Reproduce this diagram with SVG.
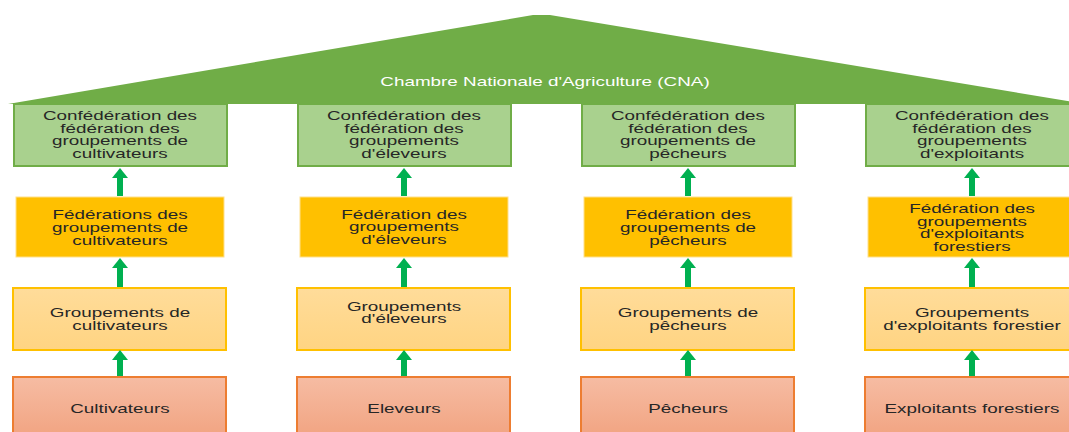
<svg xmlns="http://www.w3.org/2000/svg" width="1069" height="432" viewBox="0 0 1069 432">
<defs>
<style>
.t{font-family:"Liberation Sans",Arial,sans-serif;font-size:13px;fill:#262626;text-anchor:middle}
.title{font-family:"Liberation Sans",Arial,sans-serif;font-size:13px;fill:#ffffff;text-anchor:middle}
.r1{fill:#a9d18e;stroke:#70ad47;stroke-width:2}
.r2{fill:#ffc000;stroke:#ffe08a;stroke-width:1}
.r3{fill:url(#g3);stroke:#ffc000;stroke-width:2}
.r4{fill:url(#g4);stroke:#ed7d31;stroke-width:2}
.arr{stroke:#00b050;stroke-width:6;fill:none;marker-end:url(#ah)}
</style>
<linearGradient id="g3" x1="0" y1="0" x2="0" y2="1"><stop offset="0" stop-color="#ffdc9a"/><stop offset="1" stop-color="#ffd482"/></linearGradient>
<linearGradient id="g4" x1="0" y1="0" x2="0" y2="1"><stop offset="0" stop-color="#f6bca3"/><stop offset="1" stop-color="#f1a27f"/></linearGradient>
<marker id="ah" markerUnits="userSpaceOnUse" markerWidth="10" markerHeight="16" viewBox="0 0 10 16" refX="0" refY="8" orient="auto"><path d="M0,0 L10,8 L0,16 Z" fill="#00b050"/></marker>
</defs>
<rect width="1069" height="432" fill="#ffffff"/>

<g id="cna">
<polygon points="8,104 533,15 550,15 1085,104" fill="#70ad47"/>
<text class="title" transform="translate(545 0) scale(1.45 1)"><tspan x="0" y="86.5">Chambre Nationale d'Agriculture (CNA)</tspan></text>
</g>

<g id="conf-cultivateurs">
<rect class="r1" x="14" y="104" width="213" height="62"/>
<text class="t" transform="translate(120 0) scale(1.45 1)"><tspan x="0" y="120.5">Confédération des</tspan><tspan x="0" y="133">fédération des</tspan><tspan x="0" y="145.5">groupements de</tspan><tspan x="0" y="158">cultivateurs</tspan></text>
</g>
<g id="conf-eleveurs">
<rect class="r1" x="298" y="104" width="213" height="62"/>
<text class="t" transform="translate(404 0) scale(1.45 1)"><tspan x="0" y="120.5">Confédération des</tspan><tspan x="0" y="133">fédération des</tspan><tspan x="0" y="145.5">groupements</tspan><tspan x="0" y="158">d'éleveurs</tspan></text>
</g>
<g id="conf-pecheurs">
<rect class="r1" x="582" y="104" width="213" height="62"/>
<text class="t" transform="translate(688 0) scale(1.45 1)"><tspan x="0" y="120.5">Confédération des</tspan><tspan x="0" y="133">fédération des</tspan><tspan x="0" y="145.5">groupements de</tspan><tspan x="0" y="158">pêcheurs</tspan></text>
</g>
<g id="conf-exploitants">
<rect class="r1" x="866" y="104" width="213" height="62"/>
<text class="t" transform="translate(972 0) scale(1.45 1)"><tspan x="0" y="120.5">Confédération des</tspan><tspan x="0" y="133">fédération des</tspan><tspan x="0" y="145.5">groupements</tspan><tspan x="0" y="158">d'exploitants</tspan></text>
</g>

<g id="fed-cultivateurs">
<rect class="r2" x="16" y="197" width="208" height="60"/>
<text class="t" transform="translate(120 0) scale(1.45 1)"><tspan x="0" y="219.5">Fédérations des</tspan><tspan x="0" y="232.5">groupements de</tspan><tspan x="0" y="245.5">cultivateurs</tspan></text>
</g>
<g id="fed-eleveurs">
<rect class="r2" x="300" y="197" width="208" height="60"/>
<text class="t" transform="translate(404 0) scale(1.45 1)"><tspan x="0" y="219">Fédération des</tspan><tspan x="0" y="231.5">groupements</tspan><tspan x="0" y="244">d'éleveurs</tspan></text>
</g>
<g id="fed-pecheurs">
<rect class="r2" x="584" y="197" width="208" height="60"/>
<text class="t" transform="translate(688 0) scale(1.45 1)"><tspan x="0" y="219.5">Fédération des</tspan><tspan x="0" y="232.5">groupements de</tspan><tspan x="0" y="245.5">pêcheurs</tspan></text>
</g>
<g id="fed-exploitants">
<rect class="r2" x="868" y="197" width="208" height="60"/>
<text class="t" transform="translate(972 0) scale(1.45 1)"><tspan x="0" y="213.5">Fédération des</tspan><tspan x="0" y="226">groupements</tspan><tspan x="0" y="238.5">d'exploitants</tspan><tspan x="0" y="251.5">forestiers</tspan></text>
</g>

<g id="grp-cultivateurs">
<rect class="r3" x="13" y="288" width="213" height="62"/>
<text class="t" transform="translate(120 0) scale(1.45 1)"><tspan x="0" y="317.5">Groupements de</tspan><tspan x="0" y="330.5">cultivateurs</tspan></text>
</g>
<g id="grp-eleveurs">
<rect class="r3" x="297" y="288" width="213" height="62"/>
<text class="t" transform="translate(404 0) scale(1.45 1)"><tspan x="0" y="311">Groupements</tspan><tspan x="0" y="323.5">d'éleveurs</tspan></text>
</g>
<g id="grp-pecheurs">
<rect class="r3" x="581" y="288" width="213" height="62"/>
<text class="t" transform="translate(688 0) scale(1.45 1)"><tspan x="0" y="317.5">Groupements de</tspan><tspan x="0" y="330.5">pêcheurs</tspan></text>
</g>
<g id="grp-exploitants">
<rect class="r3" x="865" y="288" width="213" height="62"/>
<text class="t" transform="translate(972 0) scale(1.45 1)"><tspan x="0" y="317.5">Groupements</tspan><tspan x="0" y="330.5">d'exploitants forestier</tspan></text>
</g>

<g id="cultivateurs">
<rect class="r4" x="13" y="377" width="213" height="64"/>
<text class="t" transform="translate(120 0) scale(1.45 1)"><tspan x="0" y="413.5">Cultivateurs</tspan></text>
</g>
<g id="eleveurs">
<rect class="r4" x="297" y="377" width="213" height="64"/>
<text class="t" transform="translate(404 0) scale(1.45 1)"><tspan x="0" y="413.5">Eleveurs</tspan></text>
</g>
<g id="pecheurs">
<rect class="r4" x="581" y="377" width="213" height="64"/>
<text class="t" transform="translate(688 0) scale(1.45 1)"><tspan x="0" y="413.5">Pêcheurs</tspan></text>
</g>
<g id="exploitants">
<rect class="r4" x="865" y="377" width="213" height="64"/>
<text class="t" transform="translate(972 0) scale(1.45 1)"><tspan x="0" y="413.5">Exploitants forestiers</tspan></text>
</g>

<g id="connectors">
<line class="arr" x1="120" y1="196" x2="120" y2="178"/>
<line class="arr" x1="404" y1="196" x2="404" y2="178"/>
<line class="arr" x1="688" y1="196" x2="688" y2="178"/>
<line class="arr" x1="972" y1="196" x2="972" y2="178"/>
<line class="arr" x1="120" y1="287" x2="120" y2="268"/>
<line class="arr" x1="404" y1="287" x2="404" y2="268"/>
<line class="arr" x1="688" y1="287" x2="688" y2="268"/>
<line class="arr" x1="972" y1="287" x2="972" y2="268"/>
<line class="arr" x1="120" y1="376" x2="120" y2="360"/>
<line class="arr" x1="404" y1="376" x2="404" y2="360"/>
<line class="arr" x1="688" y1="376" x2="688" y2="360"/>
<line class="arr" x1="972" y1="376" x2="972" y2="360"/>
</g>
</svg>
